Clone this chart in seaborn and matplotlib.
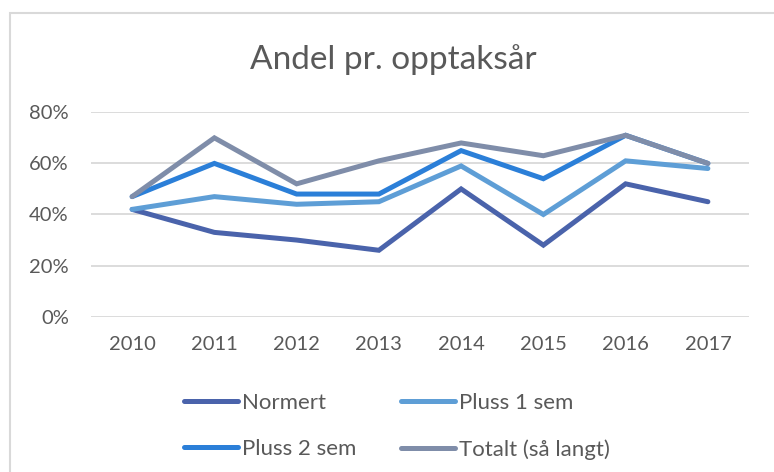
import pandas as pd
import matplotlib.pyplot as plt
import seaborn as sns
from matplotlib.patches import Rectangle
from matplotlib.ticker import PercentFormatter

years = [2010, 2011, 2012, 2013, 2014, 2015, 2016, 2017]
normert = [0.42, 0.33, 0.30, 0.26, 0.50, 0.28, 0.52, 0.45]
pluss_1_sem = [0.42, 0.47, 0.44, 0.45, 0.59, 0.40, 0.61, 0.58]
pluss_2_sem = [0.47, 0.60, 0.48, 0.48, 0.65, 0.54, 0.71, 0.60]
totalt = [0.47, 0.70, 0.52, 0.61, 0.68, 0.63, 0.71, 0.60]

series_names = ['Normert', 'Pluss 1 sem', 'Pluss 2 sem', 'Totalt (så langt)']
series_values = [normert, pluss_1_sem, pluss_2_sem, totalt]
colors = ['#4A63AB', '#5E9ED6', '#2B7FD8', '#7F8DA9']

# long format for seaborn
rows = []
for name, vals in zip(series_names, series_values):
    for y, v in zip(years, vals):
        rows.append({'year': y, 'andel': v, 'serie': name})
df = pd.DataFrame(rows)

sns.set_theme(style='white')
plt.rcParams['font.family'] = ['Lato', 'DejaVu Sans']
text_color = '#595959'

fig = plt.figure(figsize=(7.74, 4.72), dpi=100)
ax = fig.add_axes([91 / 774, 1 - 316.7 / 472, 658 / 774, 204.4 / 472])

sns.lineplot(data=df, x='year', y='andel', hue='serie', hue_order=series_names,
             palette=colors, linewidth=3.6, sort=False, ax=ax, legend=False,
             solid_capstyle='round', solid_joinstyle='miter')

ax.set_xlim(2009.5, 2017.5)
ax.set_ylim(0, 0.8)
ax.set_yticks([0, 0.2, 0.4, 0.6, 0.8])
ax.set_xticks(years)
ax.yaxis.set_major_formatter(PercentFormatter(1.0, decimals=0))
ax.grid(axis='y', color='#D9D9D9', linewidth=1.3)
ax.set_axisbelow(True)
for s in ax.spines.values():
    s.set_visible(False)
ax.tick_params(axis='both', length=0, labelsize=14.5, colors=text_color)
ax.tick_params(axis='y', pad=16)
ax.tick_params(axis='x', pad=14)
ax.set_xlabel('')
ax.set_ylabel('')

fig.text(393 / 774, 1 - 60 / 472, 'Andel pr. opptaksår', ha='center', va='center',
         fontsize=24, color=text_color)

# legend: row 1 Normert / Pluss 1 sem, row 2 Pluss 2 sem / Totalt
handles = [plt.Line2D([], [], color=c, linewidth=3.6, solid_capstyle='round') for c in colors]
order = [0, 2, 1, 3]
fig.legend([handles[i] for i in order], [series_names[i] for i in order],
           ncol=2, loc='center', bbox_to_anchor=(397 / 774, 1 - 426.5 / 472),
           frameon=False, fontsize=16, labelcolor=text_color,
           handlelength=2.45, handletextpad=0.18, columnspacing=2.0, labelspacing=1.17)

# chart frame
fig.patches.append(Rectangle((10 / 774, -0.1), 1.2, 1 - 13 / 472 + 0.1,
                             transform=fig.transFigure, fill=False,
                             edgecolor='#D9D9D9', linewidth=1.5))

fig.savefig('out.png', dpi=100, facecolor='white')
